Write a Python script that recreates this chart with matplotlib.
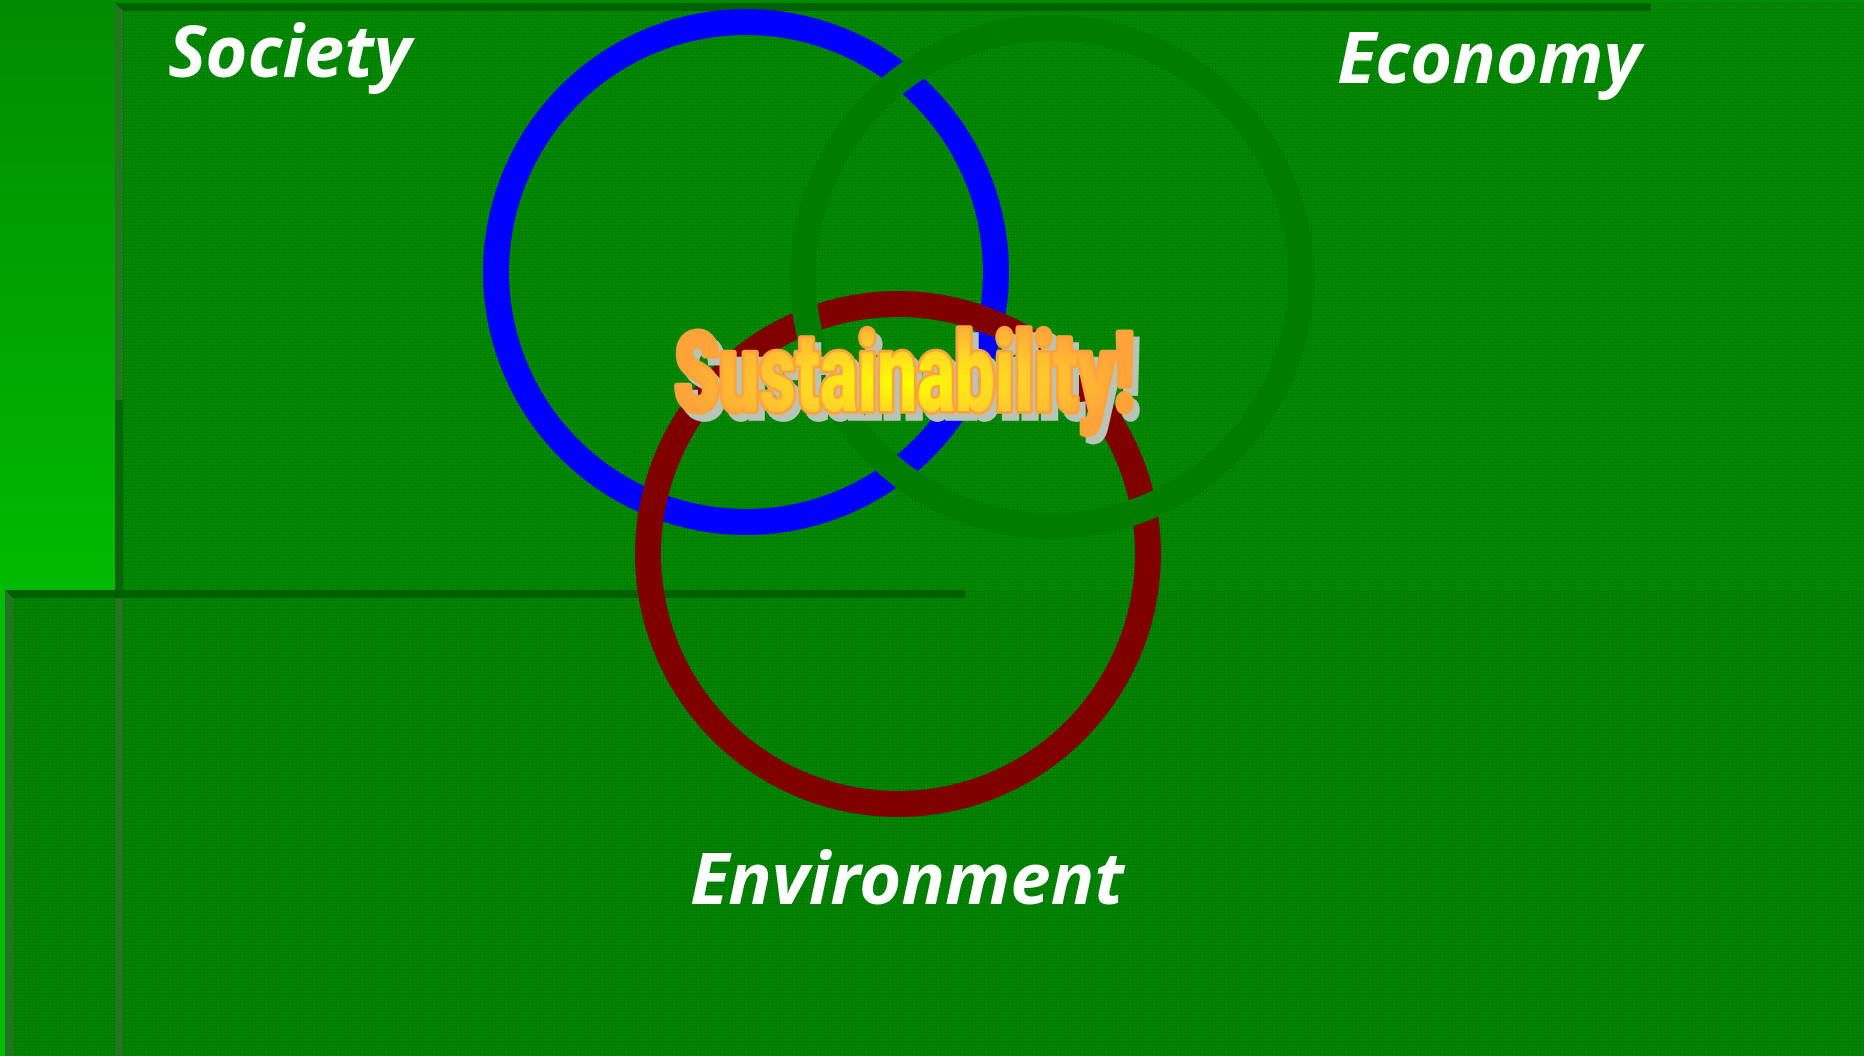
import numpy as np
import matplotlib
matplotlib.use("Agg")
import matplotlib.pyplot as plt
from matplotlib.patches import Circle, Rectangle, PathPatch, Polygon
from matplotlib.textpath import TextPath
from matplotlib.font_manager import FontProperties
from matplotlib.colors import LinearSegmentedColormap, to_rgb
from matplotlib.transforms import Affine2D

# -------- chart content --------
circle_names = ["Society", "Environment", "Economy"]   # drawing order
circle_x = [746, 898, 1052]
circle_y = [272, 554, 277]
circle_r = [250, 250, 249]
circle_colors = ["#0000ff", "#800000", "#007d00"]

label_text = ["Society", "Economy", "Environment"]
label_x = [290, 1489, 907]
label_y = [77, 83, 904]

center_text = "Sustainability!"

W, H = 1865, 1056
PANEL_X = 115        # left edge of upper panel
LOWER_Y = 590        # top edge of lower panel
LOWER_X = 5

# -------- background texture --------
yy, xx = np.mgrid[0:H, 0:W]
img = np.zeros((H, W, 3))
img[:] = to_rgb("#008e00")
img[yy >= LOWER_Y] = to_rgb("#008900")
mesh = ((xx % 3 == 0) | (yy % 3 == 0))
img[mesh] *= 0.88
img[((xx % 6 == 1) & (yy % 6 == 1))] *= 1.15

# plain strips outside the panels
top = np.array(to_rgb("#008c00"))
bot = np.array(to_rgb("#00bb00"))
f = np.clip(yy / LOWER_Y, 0, 1)[..., None]
strip = top * (1 - f) + bot * f
m = (xx < PANEL_X) & (yy < LOWER_Y)
img[m] = strip[m]
img[(xx < LOWER_X) & (yy >= LOWER_Y)] = to_rgb("#00bb00")
img[(yy < 3)] = to_rgb("#008c00")
img = np.clip(img, 0, 1)

fig = plt.figure(figsize=(W / 100, H / 100), dpi=100)
ax = fig.add_axes([0, 0, 1, 1])
ax.imshow(img, extent=[0, W, H, 0], interpolation="nearest", zorder=0)
ax.set_xlim(0, W)
ax.set_ylim(H, 0)
ax.axis("off")

# -------- panel borders --------
ax.add_patch(Rectangle((PANEL_X, 3), 1651 - PANEL_X, 8, color="#006000", lw=0, zorder=1))
ax.add_patch(Rectangle((PANEL_X, 3), 8, LOWER_Y - 3, color="#247424", lw=0, zorder=1))
ax.add_patch(Rectangle((PANEL_X, 400), 8, LOWER_Y - 400, color="#0a640a", lw=0, zorder=1))
ax.add_patch(Rectangle((PANEL_X, LOWER_Y), 8, H - LOWER_Y, color="#247424", lw=0, zorder=1))
ax.add_patch(Rectangle((LOWER_X, LOWER_Y), 965 - LOWER_X, 8, color="#006000", lw=0, zorder=1))
ax.add_patch(Rectangle((LOWER_X, LOWER_Y), 8, H - LOWER_Y, color="#247424", lw=0, zorder=1))
ax.add_patch(Polygon([[PANEL_X, 3], [PANEL_X + 8, 11], [PANEL_X + 8, 3]], color="#006000", lw=0, zorder=1))
ax.add_patch(Polygon([[LOWER_X, LOWER_Y], [LOWER_X + 8, LOWER_Y + 8], [LOWER_X + 8, LOWER_Y]], color="#006000", lw=0, zorder=1))

# -------- venn circles --------
lw_pt = 26 * 72 / 100
for i, name in enumerate(circle_names):
    ax.add_patch(Circle((circle_x[i], circle_y[i]), circle_r[i], fill=False,
                        edgecolor=circle_colors[i], linewidth=lw_pt, zorder=3 + i))

# -------- labels --------
for t, x, y in zip(label_text, label_x, label_y):
    ax.text(x, y, t, ha="center", va="baseline", color="white", fontsize=52,
            family="Open Sans", weight="bold", style="italic", zorder=8)

# -------- Sustainability! word art --------
tp = TextPath((0, 0), center_text, size=100,
              prop=FontProperties(family="Roboto", weight="black"))
bb = tp.get_extents()
x0, x1 = 677, 1131
y_base, y_top = 411, 328
sx = (x1 - x0) / bb.width
sy = (y_base - y_top) / bb.y1
to_img = Affine2D().translate(-bb.x0, 0).scale(sx, -sy).translate(x0, y_base)

shadow = PathPatch(tp, transform=to_img + Affine2D().translate(6, 7) + ax.transData,
                   facecolor="#b9c4b9", edgecolor="#b9c4b9", linewidth=4, zorder=9)
ax.add_patch(shadow)

# orange body, stroked to make the letters heavier
body = PathPatch(tp, transform=to_img + ax.transData, facecolor="#ffa33a",
                 edgecolor="#ffa33a", linewidth=4, joinstyle="round", zorder=10)
ax.add_patch(body)

face = PathPatch(tp, transform=to_img + ax.transData, facecolor="none",
                 edgecolor="none", zorder=11)
ax.add_patch(face)

gy, gx = np.mgrid[-1:1:200j, -1:1:600j]
grad = np.clip(np.sqrt(gx ** 2 + (gy * 0.9) ** 2), 0, 1)
cmap = LinearSegmentedColormap.from_list("sust", ["#ffff00", "#ffd22a", "#ffa33a"])
gi = ax.imshow(grad, cmap=cmap, extent=[x0, x1, 445, 320], zorder=11,
               interpolation="bilinear", aspect="auto")
gi.set_clip_path(face)

ax.set_xlim(0, W)
ax.set_ylim(H, 0)
fig.savefig("out.png", dpi=100)
